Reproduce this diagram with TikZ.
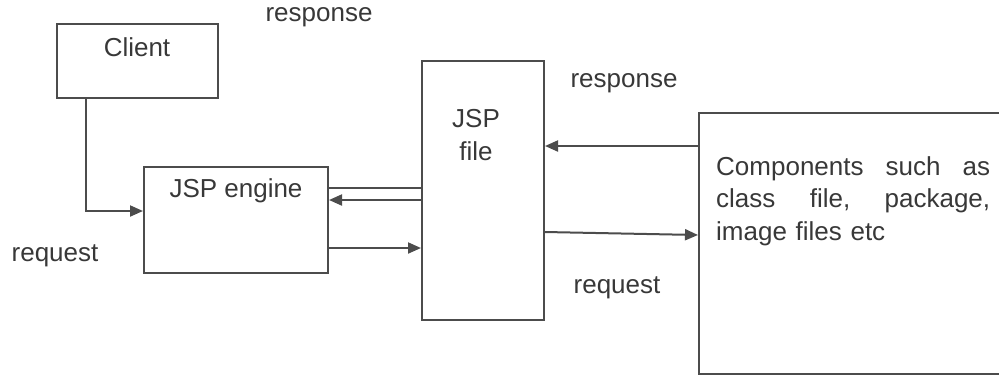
\documentclass[tikz,border=0pt]{standalone}
\usepackage{fontspec}
\setmainfont{Liberation Sans}
\usetikzlibrary{arrows.meta}
\begin{document}
\begin{tikzpicture}[x=1pt,y=-1pt,
  box/.style={draw=black!70,line width=2pt,inner sep=0pt},
  txt/.style={text=black!78,font=\fontsize{26}{32.5}\selectfont,inner sep=0pt},
  conn/.style={draw=black!70,line width=2pt},
  arr/.style={conn,-{Triangle[length=13pt,width=11pt]}}]
\useasboundingbox (0,0) rectangle (999,376);
\node[box,minimum width=161pt,minimum height=74pt] (client) at (137.5,61) {};
\node[txt] at (137,47) {Client};
\node[box,minimum width=184pt,minimum height=106pt] (engine) at (236,220) {};
\node[txt] at (236,191) {JSP engine};
\node[box,minimum width=122pt,minimum height=259pt] (jsp) at (483,190.5) {};
\node[txt,align=center] at (476,135) {JSP\\file};
\node[box,minimum width=302pt,minimum height=261pt] (comp) at (850,243.5) {};
\node[txt,text width=274pt,align=left,anchor=north west] at (716,156) {Components\hfill such\hfill as\\class\hfill file,\hfill package,\\image files etc};
\node[txt] at (319,17) {response};
\node[txt] at (55,256) {request};
\node[txt] at (624,83) {response};
\node[txt] at (617,288) {request};
\coordinate (c1) at (86,211);
\draw[arr] (client.south west -| c1) -- (c1) -- (engine.west |- c1);
\draw[conn] (engine.east |- 0,188) -- (jsp.west |- 0,188);
\draw[arr] (jsp.west |- 0,200) -- (engine.east |- 0,200);
\draw[arr] (engine.east |- 0,248) -- (jsp.west |- 0,248);
\draw[arr] (comp.west |- 0,146) -- (jsp.east |- 0,146);
\draw[arr] (jsp.east |- 0,232) -- (comp.west |- 0,235);
\end{tikzpicture}
\end{document}
